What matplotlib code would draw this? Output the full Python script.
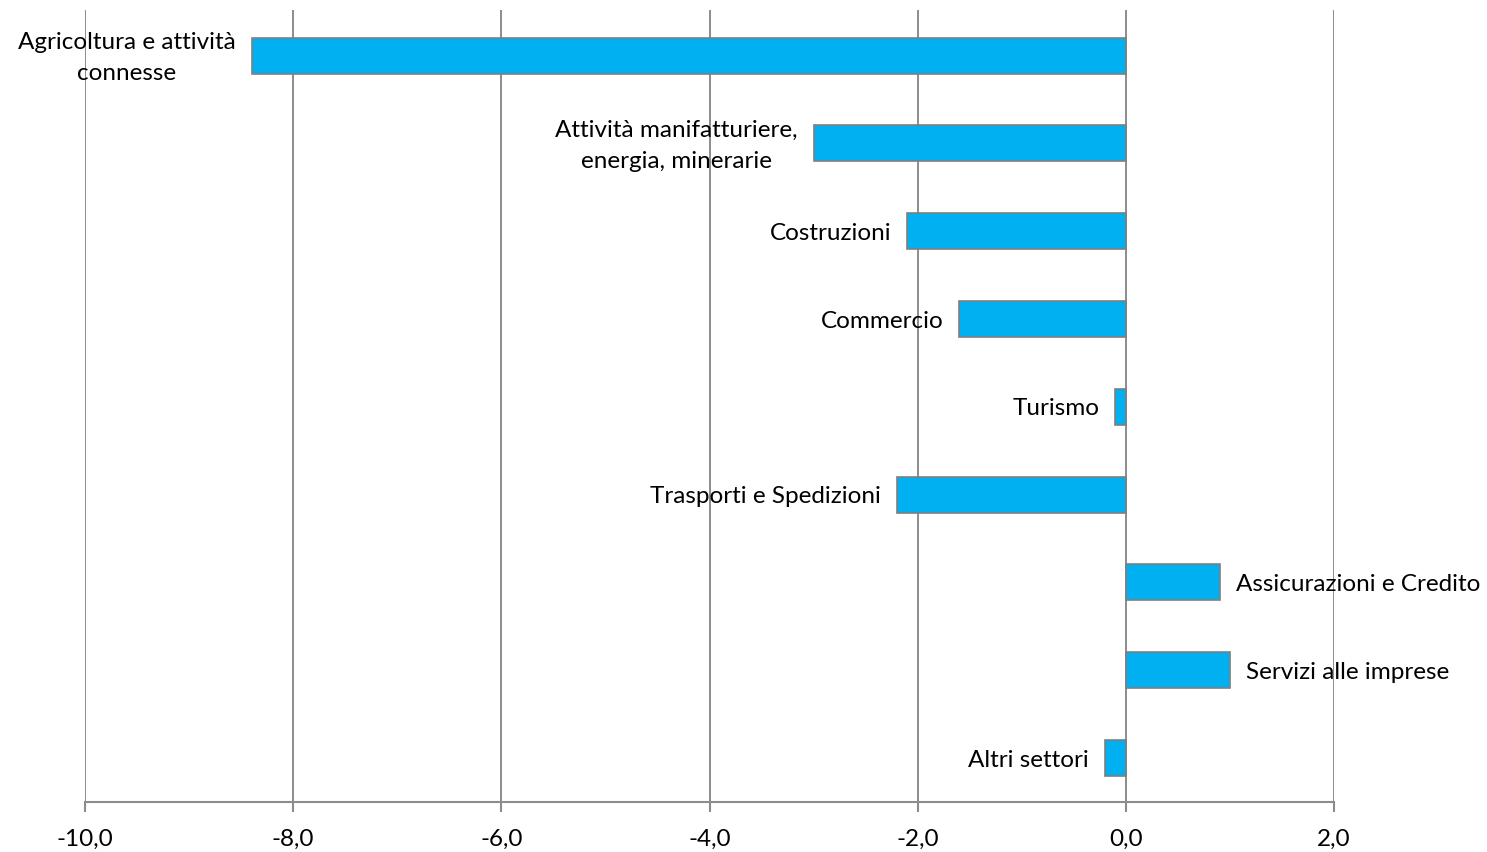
import matplotlib
matplotlib.use("Agg")
import matplotlib.pyplot as plt

categories = [
    "Agricoltura e attività\nconnesse",
    "Attività manifatturiere,\nenergia, minerarie",
    "Costruzioni",
    "Commercio",
    "Turismo",
    "Trasporti e Spedizioni",
    "Assicurazioni e Credito",
    "Servizi alle imprese",
    "Altri settori",
]
values = [-8.4, -3.0, -2.1, -1.6, -0.1, -2.2, 0.9, 1.0, -0.2]
x_ticks = [-10, -8, -6, -4, -2, 0, 2]
x_tick_labels = ["-10,0", "-8,0", "-6,0", "-4,0", "-2,0", "0,0", "2,0"]

plt.rcParams["font.family"] = ["Lato", "DejaVu Sans"]

fig = plt.figure(figsize=(14.87, 8.52), dpi=100)
ax = fig.add_axes([85 / 1487, 1 - 802 / 852, (1334 - 85) / 1487, (802 - 10) / 852])

pos = list(range(len(categories)))
ax.barh(pos, values, height=0.41, color="#00B0F0", edgecolor="#7f7f7f",
        linewidth=1.2, zorder=3)

for y, v, name in zip(pos, values, categories):
    if v < 0:
        off, ha = -16, "right"
    else:
        off, ha = 16, "left"
    ax.annotate(name, (v, y), xytext=(off, -2), textcoords="offset pixels",
                ha=ha, va="center", multialignment="center",
                fontsize=17.5, zorder=4, linespacing=1.6)

ax.set_xlim(-10, 2)
ax.set_ylim(len(categories) - 0.5, -0.52)
ax.set_xticks(x_ticks)
ax.set_xticklabels(x_tick_labels, fontsize=17.5)
ax.set_yticks([])
ax.grid(axis="x", color="#8c8c8c", linewidth=1.4, zorder=0)

for side in ["top", "right", "left"]:
    ax.spines[side].set_visible(False)
ax.spines["bottom"].set_color("#8c8c8c")
ax.spines["bottom"].set_linewidth(1.5)
ax.tick_params(axis="x", direction="out", length=7, width=1.5, color="#8c8c8c", pad=12)

fig.savefig("out.png", dpi=100)
